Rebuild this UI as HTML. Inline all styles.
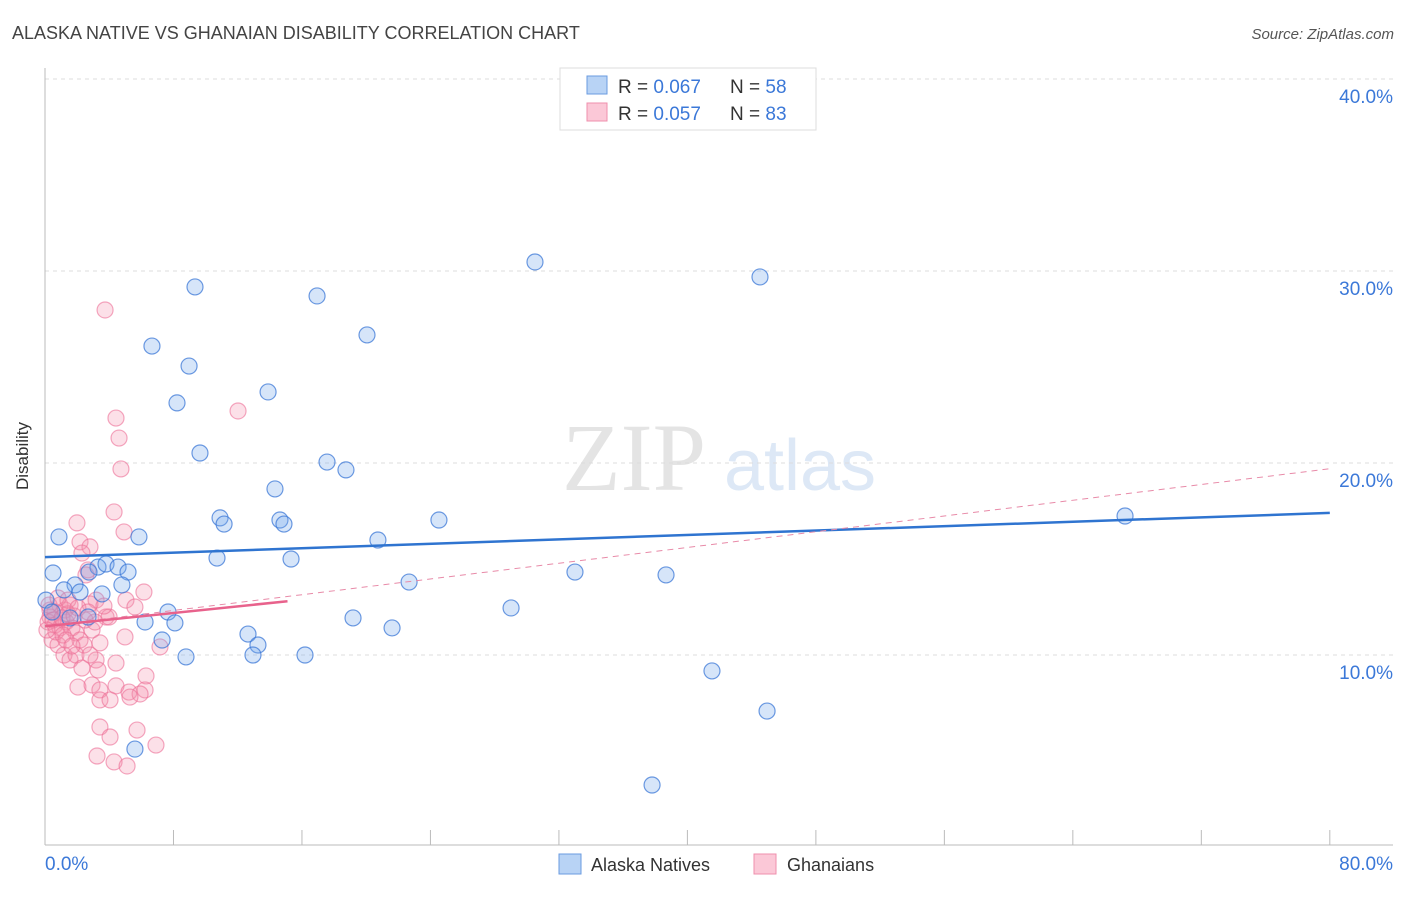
<!DOCTYPE html>
<html><head><meta charset="utf-8"><style>
body{margin:0;background:#fff;font-family:"Liberation Sans",sans-serif;}
svg text{font-family:"Liberation Sans",sans-serif;}
</style></head><body>
<svg width="1406" height="892">
<text x="12" y="39" font-size="18" fill="#444">ALASKA NATIVE VS GHANAIAN DISABILITY CORRELATION CHART</text>
<text x="1394" y="39" font-size="15" fill="#555" font-style="italic" text-anchor="end">Source: ZipAtlas.com</text>
<text x="634" y="490" font-size="96" fill="#e4e4e4" font-family="Liberation Serif" text-anchor="middle" style="font-family:'Liberation Serif',serif">ZIP</text>
<text x="800" y="490" font-size="72" fill="#dde8f6" text-anchor="middle">atlas</text>
<g id="grid"></g>
<g id="axes"></g>
<g id="pts"></g>
<g id="lines"></g>
<text x="28" y="456" font-size="17" fill="#333" text-anchor="middle" transform="rotate(-90 28 456)">Disability</text>
<g>
<rect x="560" y="68" width="256" height="62" fill="#fff" stroke="#ddd"/>
<rect x="587" y="76" width="20" height="18" fill="#b8d3f5" stroke="#6a9be0"/>
<rect x="587" y="103" width="20" height="18" fill="#fbc8d7" stroke="#ef8fac"/>
<text x="618" y="93" font-size="19" fill="#333">R = <tspan fill="#3b78d8">0.067</tspan></text>
<text x="730" y="93" font-size="19" fill="#333">N = <tspan fill="#3b78d8">58</tspan></text>
<text x="618" y="120" font-size="19" fill="#333">R = <tspan fill="#3b78d8">0.057</tspan></text>
<text x="730" y="120" font-size="19" fill="#333">N = <tspan fill="#3b78d8">83</tspan></text>
</g>
<g>
<rect x="559" y="854" width="22" height="20" fill="#b8d3f5" stroke="#6a9be0"/>
<text x="591" y="871" font-size="18" fill="#333">Alaska Natives</text>
<rect x="754" y="854" width="22" height="20" fill="#fbc8d7" stroke="#ef8fac"/>
<text x="787" y="871" font-size="18" fill="#333">Ghanaians</text>
</g>
</svg>
<script>
const yTicks=[10,20,30,40];
const yTickLabels=["10.0%","20.0%","30.0%","40.0%"];
const xTickLabels=["0.0%","80.0%"];
const blueX=[9.34,16.94,30.51,44.52,6.66,8.97,20.05,8.22,13.89,9.65,17.56,18.74,14.32,10.90,11.15,14.63,14.88,24.53,67.25,5.85,0.87,20.73,10.71,15.32,0.50,3.30,3.80,4.55,5.17,2.74,1.87,4.79,3.55,22.67,33.0,38.67,0.06,7.66,29.02,6.23,8.09,19.18,21.61,12.64,13.26,7.29,8.78,12.95,16.19,41.53,44.96,5.60,37.80,1.18,2.18,0.44,1.56,2.68];
const blueY=[29.17,28.70,30.47,29.69,26.09,25.05,26.67,23.13,23.70,20.52,20.05,19.64,18.65,17.14,16.82,17.03,16.82,17.03,17.24,16.15,16.15,15.99,15.05,15.00,14.27,14.58,14.74,14.58,14.32,14.32,13.65,13.65,13.18,13.80,14.32,14.17,12.86,12.24,12.45,11.72,11.67,11.93,11.41,11.09,10.52,10.78,9.90,10.0,10.0,9.17,7.08,5.10,3.23,13.39,13.28,12.24,11.93,11.98];
const pinkX=[3.74,4.42,4.61,4.73,12.02,4.30,1.99,4.92,2.18,2.80,2.30,2.68,2.55,6.16,5.04,5.60,3.18,2.80,3.80,0.93,1.25,1.56,0.62,0.31,0.19,0.62,0.93,1.31,1.68,1.93,2.18,2.43,2.93,3.42,3.99,4.98,7.16,0.44,0.81,1.18,1.56,1.93,2.30,3.18,3.30,4.42,6.29,2.05,2.93,3.42,4.42,5.23,6.23,5.92,3.42,5.29,4.05,3.42,5.73,4.05,3.24,4.30,5.11,6.91,0.31,0.50,1.06,1.43,1.81,0.68,1.12,2.49,3.11,0.12,0.25,0.81,1.43,2.05,2.68,1.31,1.68,2.80,3.67];
const pinkY=[27.97,22.34,21.30,19.69,22.71,17.45,16.88,16.41,15.89,15.63,15.31,14.43,14.17,13.28,12.86,12.50,12.86,12.66,11.98,12.60,12.34,12.60,12.24,11.98,11.72,11.56,11.41,11.72,11.41,11.15,10.78,10.52,11.30,10.63,11.98,10.94,10.42,10.78,10.52,10.0,9.74,10.0,9.32,9.74,9.22,9.58,8.91,8.33,8.44,8.18,8.39,8.07,8.18,7.97,7.66,7.81,7.66,6.25,6.09,5.73,4.74,4.43,4.22,5.31,12.34,11.82,11.93,12.14,12.03,11.20,11.04,11.82,11.72,11.30,12.60,12.97,12.86,12.45,12.24,10.78,10.47,10.0,12.55];
const blueTrend=[15.1,17.4];
const pinkTrend=[11.5,12.8,19.7];
const pinkSolidEnd=15.1;
const NS="http://www.w3.org/2000/svg";
const X=v=>45+v*16.06, Y=v=>847-v*19.2;
function mk(p,tag,a){const e=document.createElementNS(NS,tag);for(const k in a)e.setAttribute(k,a[k]);p.appendChild(e);return e;}
const grid=document.getElementById('grid'),axes=document.getElementById('axes'),pts=document.getElementById('pts'),lines=document.getElementById('lines');
yTicks.forEach((t,i)=>{
 const l=mk(grid,'line',{x1:45,x2:1393,y1:Y(t),y2:Y(t),stroke:'#ddd','stroke-dasharray':'4,4'});
 
 
 const tx=mk(grid,'text',{x:1393,y:Y(t)+24,'font-size':19,fill:'#3b78d8','text-anchor':'end'});
 tx.textContent=yTickLabels[i];
 
 
});
const ya=mk(axes,'line',{x1:45,x2:45,y1:68,y2:845,stroke:'#bbb'});


const xa=mk(axes,'line',{x1:45,x2:1393,y1:845,y2:845,stroke:'#bbb'});


for(let v=8;v<=80;v+=8){const t=mk(axes,'line',{x1:X(v),x2:X(v),y1:830,y2:845,stroke:'#bbb'});
 
 }
[[0,'start'],[80,'end']].forEach(([v,a],i)=>{const t=mk(axes,'text',{x:i?1393:45,y:870,'font-size':19,fill:'#3b78d8','text-anchor':a});t.textContent=xTickLabels[i];
 
 });
pinkX.forEach((x,i)=>{const c=mk(pts,'circle',{cx:X(x),cy:Y(pinkY[i]),r:8,fill:'rgba(244,143,172,0.28)',stroke:'rgba(236,110,150,0.6)','stroke-width':1.2});
 
 });
blueX.forEach((x,i)=>{const c=mk(pts,'circle',{cx:X(x),cy:Y(blueY[i]),r:8,fill:'rgba(120,170,235,0.3)',stroke:'rgba(60,120,215,0.75)','stroke-width':1.2});
 
 });
const bl=mk(lines,'line',{x1:X(0),x2:X(80),y1:Y(blueTrend[0]),y2:Y(blueTrend[1]),stroke:'#2f74d0','stroke-width':2.5});


const pd=mk(lines,'line',{x1:X(0),x2:X(80),y1:Y(pinkTrend[0]),y2:Y(pinkTrend[2]),stroke:'#e88aa8','stroke-width':1,'stroke-dasharray':'6,5'});


const ps=mk(lines,'line',{x1:X(0),x2:X(pinkSolidEnd),y1:Y(pinkTrend[0]),y2:Y(pinkTrend[1]),stroke:'#e8628c','stroke-width':2.5});


</script>
</body></html>
